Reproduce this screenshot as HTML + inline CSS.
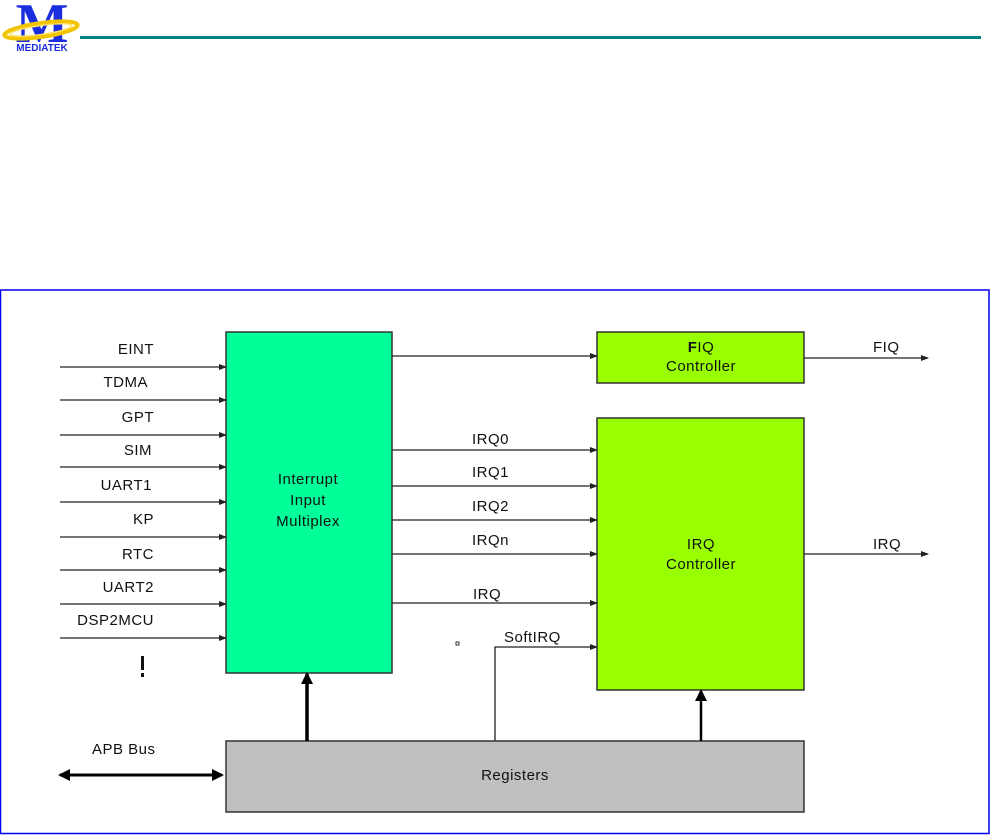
<!DOCTYPE html>
<html><head><meta charset="utf-8"><style>
html,body{margin:0;padding:0;background:#fff;}
svg{display:block;}
text{font-family:"Liberation Sans",Arial,sans-serif;fill:#111;letter-spacing:0.5px;}
</style></head><body>
<svg width="990" height="835" viewBox="0 0 990 835" xmlns="http://www.w3.org/2000/svg">
<defs>
<marker id="a" markerWidth="8" markerHeight="6" refX="7" refY="3" orient="auto" markerUnits="userSpaceOnUse"><path d="M0,0 L8,3 L0,6 Z" fill="#222"/></marker>
<marker id="b" markerWidth="12" markerHeight="12" refX="10" refY="6" orient="auto-start-reverse" markerUnits="userSpaceOnUse"><path d="M0,0 L12,6 L0,12 Z" fill="#000"/></marker>
</defs>
<!-- logo -->
<text x="42" y="42" font-size="56" font-weight="bold" text-anchor="middle" style="fill:#1a2ee0;font-family:'Liberation Serif',serif;letter-spacing:0">M</text>
<ellipse cx="41" cy="30" rx="37" ry="7" fill="none" stroke="#f2c400" stroke-width="4" transform="rotate(-8 41 30)"/>
<ellipse cx="41" cy="30" rx="31" ry="4.5" fill="none" stroke="#ffe060" stroke-width="1.5" transform="rotate(-8 41 30)"/>
<text x="42" y="51" font-size="10" font-weight="bold" text-anchor="middle" style="fill:#1a2ee0;letter-spacing:0">MEDIATEK</text>
<rect x="80" y="36" width="901" height="3" fill="#008080"/>
<!-- frame -->
<rect x="0.5" y="290" width="988.5" height="543.5" fill="none" stroke="#0000ee" stroke-width="1.5"/>
<!-- mux -->
<rect x="226" y="332" width="166" height="341" fill="#00ff99" stroke="#333" stroke-width="1.5"/>
<text x="308" y="484" font-size="15" text-anchor="middle">Interrupt</text>
<text x="308" y="505" font-size="15" text-anchor="middle">Input</text>
<text x="308" y="526" font-size="15" text-anchor="middle">Multiplex</text>
<!-- inputs -->
<g stroke="#222" stroke-width="1.3" marker-end="url(#a)">
<line x1="60" y1="367" x2="226" y2="367"/>
<line x1="60" y1="400" x2="226" y2="400"/>
<line x1="60" y1="435" x2="226" y2="435"/>
<line x1="60" y1="467" x2="226" y2="467"/>
<line x1="60" y1="502" x2="226" y2="502"/>
<line x1="60" y1="537" x2="226" y2="537"/>
<line x1="60" y1="570" x2="226" y2="570"/>
<line x1="60" y1="604" x2="226" y2="604"/>
<line x1="60" y1="638" x2="226" y2="638"/>
</g>
<g font-size="15" text-anchor="end">
<text x="154" y="354">EINT</text>
<text x="148" y="387">TDMA</text>
<text x="154" y="422">GPT</text>
<text x="152" y="455">SIM</text>
<text x="152" y="490">UART1</text>
<text x="154" y="524">KP</text>
<text x="154" y="559">RTC</text>
<text x="154" y="592">UART2</text>
<text x="154" y="625">DSP2MCU</text>
</g>
<rect x="141" y="656" width="3" height="14" fill="#111"/>
<rect x="141" y="673" width="3" height="4" fill="#111"/>
<!-- FIQ -->
<rect x="597" y="332" width="207" height="51" fill="#99ff00" stroke="#333" stroke-width="1.5"/>
<text x="701" y="352" font-size="15" text-anchor="middle"><tspan font-weight="bold">F</tspan>IQ</text>
<text x="701" y="371" font-size="15" text-anchor="middle">Controller</text>
<line x1="392" y1="356" x2="597" y2="356" stroke="#222" stroke-width="1.3" marker-end="url(#a)"/>
<line x1="804" y1="358" x2="928" y2="358" stroke="#222" stroke-width="1.3" marker-end="url(#a)"/>
<text x="873" y="352" font-size="15">FIQ</text>
<!-- IRQ -->
<rect x="597" y="418" width="207" height="272" fill="#99ff00" stroke="#333" stroke-width="1.5"/>
<text x="701" y="549" font-size="15" text-anchor="middle">IRQ</text>
<text x="701" y="569" font-size="15" text-anchor="middle">Controller</text>
<g stroke="#222" stroke-width="1.3" marker-end="url(#a)">
<line x1="392" y1="450" x2="597" y2="450"/>
<line x1="392" y1="486" x2="597" y2="486"/>
<line x1="392" y1="520" x2="597" y2="520"/>
<line x1="392" y1="554" x2="597" y2="554"/>
<line x1="392" y1="603" x2="597" y2="603"/>
<polyline points="495,741 495,647 597,647" fill="none"/>
<line x1="804" y1="554" x2="928" y2="554"/>
</g>
<g font-size="15">
<text x="472" y="444">IRQ0</text>
<text x="472" y="477">IRQ1</text>
<text x="472" y="511">IRQ2</text>
<text x="472" y="545">IRQn</text>
<text x="473" y="599">IRQ</text>
<text x="504" y="642">SoftIRQ</text>
<text x="873" y="549">IRQ</text>
</g>
<rect x="456" y="642" width="3" height="3" fill="none" stroke="#000" stroke-width="0.8"/>
<!-- registers -->
<rect x="226" y="741" width="578" height="71" fill="#c0c0c0" stroke="#333" stroke-width="1.5"/>
<text x="515" y="780" font-size="15" text-anchor="middle">Registers</text>
<line x1="307" y1="741" x2="307" y2="674" stroke="#000" stroke-width="3.5" marker-end="url(#b)"/>
<line x1="701" y1="741" x2="701" y2="691" stroke="#000" stroke-width="2.5" marker-end="url(#b)"/>
<line x1="60" y1="775" x2="222" y2="775" stroke="#000" stroke-width="3" marker-start="url(#b)" marker-end="url(#b)"/>
<text x="92" y="754" font-size="15">APB Bus</text>
</svg>
</body></html>
